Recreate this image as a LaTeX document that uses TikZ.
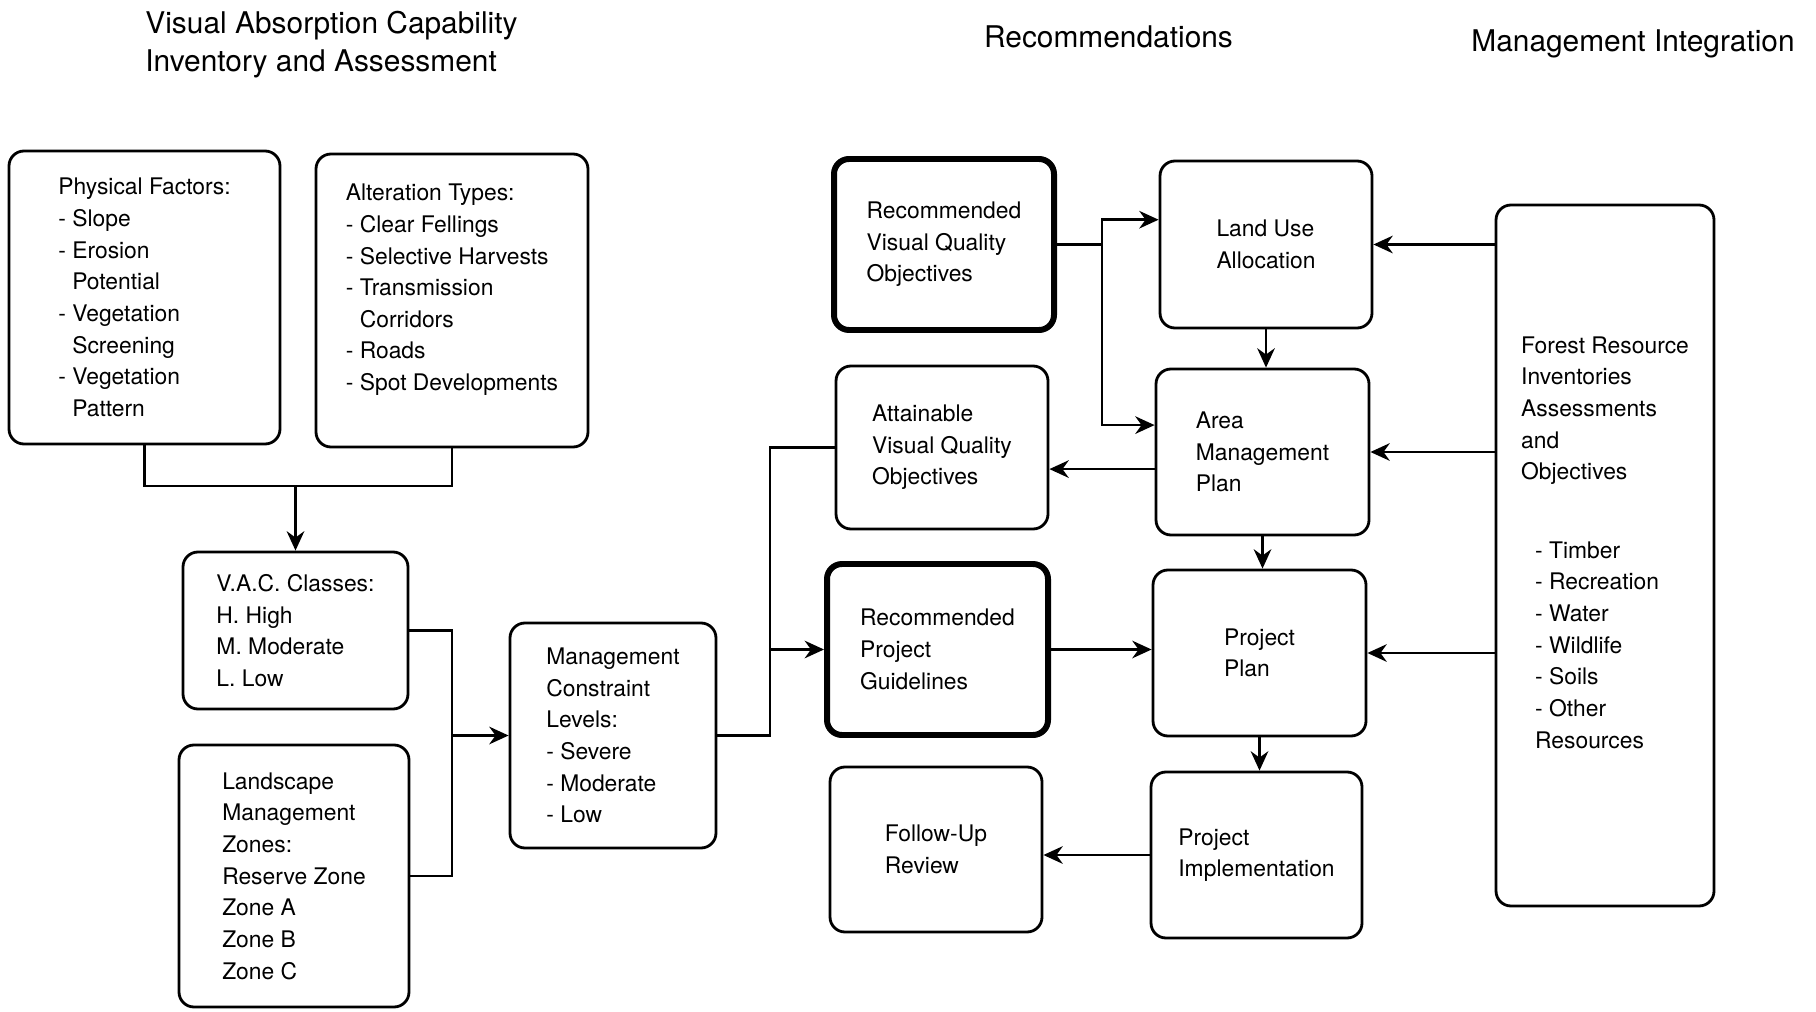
\documentclass[tikz,border=0pt]{standalone}
\usepackage{fontspec}
\setmainfont{TeX Gyre Heros}
\usetikzlibrary{arrows.meta}

\begin{document}
\begin{tikzpicture}[x=1cm,y=1cm,
  box/.style={draw,line width=1.6pt,rounded corners=0.3cm,align=left,font=\fontsize{13}{18}\selectfont},
  keybox/.style={box,line width=3.4pt},
  title/.style={align=left,font=\fontsize{17}{22}\selectfont},
  link/.style={line width=1.5pt},
  flow/.style={link,-{Stealth[length=11pt,width=10pt]}}]
\useasboundingbox (0,0) rectangle (36.32,20.22);

\node[title] (vactitle) at (6.63,19.33) {Visual Absorption Capability\\Inventory and Assessment};
\node[title] (rectitle) at (22.17,19.48) {Recommendations};
\node[title] (mantitle) at (32.66,19.34) {Management Integration};

\node[box,minimum width=5.42cm,minimum height=5.86cm] (phys) at (2.89,14.27) {Physical Factors:\\- Slope\\- Erosion\\\hphantom{- }Potential\\- Vegetation\\\hphantom{- }Screening\\- Vegetation\\\hphantom{- }Pattern};
\node[box,minimum width=5.44cm,minimum height=5.86cm] (alter) at (9.04,14.21) {Alteration Types:\\- Clear Fellings\\- Selective Harvests\\- Transmission\\\hphantom{- }Corridors\\- Roads\\- Spot Developments\\[-3pt]\mbox{}};
\node[box,minimum width=4.5cm,minimum height=3.14cm] (vac) at (5.91,7.61) {V.A.C. Classes:\\H. High\\M. Moderate\\L. Low};
\node[box,minimum width=4.6cm,minimum height=5.24cm] (lmz) at (5.88,2.70) {Landscape\\Management\\Zones:\\Reserve Zone\\Zone A\\Zone B\\Zone C};
\node[box,minimum width=4.12cm,minimum height=4.5cm] (mcl) at (12.26,5.51) {Management\\Constraint\\Levels:\\- Severe\\- Moderate\\- Low};

\node[keybox,minimum width=4.4cm,minimum height=3.42cm] (rvqo) at (18.88,15.33) {Recommended\\Visual Quality\\Objectives};
\node[box,minimum width=4.24cm,minimum height=3.26cm] (avqo) at (18.84,11.27) {Attainable\\Visual Quality\\Objectives};
\node[keybox,minimum width=4.42cm,minimum height=3.42cm] (rpg) at (18.75,7.23) {Recommended\\Project\\Guidelines};
\node[box,minimum width=4.24cm,minimum height=3.3cm] (fur) at (18.72,3.23) {Follow-Up\\Review};

\node[box,minimum width=4.24cm,minimum height=3.34cm] (lua) at (25.32,15.33) {Land Use\\Allocation};
\node[box,minimum width=4.26cm,minimum height=3.32cm] (amp) at (25.25,11.18) {Area\\Management\\Plan};
\node[box,minimum width=4.26cm,minimum height=3.32cm] (pp) at (25.19,7.16) {Project\\Plan};
\node[box,minimum width=4.22cm,minimum height=3.32cm] (pi) at (25.13,3.12) {Project\\Implementation};

\node[box,minimum width=4.36cm,minimum height=14.02cm] (fri) at (32.10,9.11) {Forest Resource\\Inventories\\Assessments\\and\\Objectives\\[0.94cm]\hspace*{0.28cm}- Timber\\\hspace*{0.28cm}- Recreation\\\hspace*{0.28cm}- Water\\\hspace*{0.28cm}- Wildlife\\\hspace*{0.28cm}- Soils\\\hspace*{0.28cm}- Other\\\hspace*{0.28cm}Resources\\[-3pt]\mbox{}};

\coordinate (j1) at (5.91,10.50);
\draw[link] (phys.south) |- (j1) -| (alter.south);
\draw[flow] (j1) -- (vac.north);

\coordinate (j2) at (9.04,5.51);
\draw[link] (vac.east) -| (j2) |- (lmz.east);
\draw[flow] (j2) -- (mcl.west);

\coordinate (j3) at (15.40,7.23);
\draw[link] (mcl.east) -| (j3) |- (avqo.west);
\draw[flow] (j3) -- (rpg.west);

\coordinate (j4) at (22.04,15.33);
\draw[link] (rvqo.east) -- (j4);
\draw[flow] (j4) |- (lua.167);
\draw[flow] (j4) |- (amp.166);

\draw[flow] (lua.south) -- (lua.south |- amp.north);
\draw[flow] (amp.south) -- (amp.south |- pp.north);
\draw[flow] (pp.south) -- (pp.south |- pi.north);
\draw[flow] (amp.189) -- (amp.189 -| avqo.east);
\draw[flow] (rpg.east) -- (rpg.east -| pp.west);
\draw[flow] (pi.west) -- (pi.west -| fur.east);

\draw[flow] (fri.west |- lua.east) -- (lua.east);
\draw[flow] (fri.west |- amp.east) -- (amp.east);
\draw[flow] (fri.west |- pp.east) -- (pp.east);
\end{tikzpicture}
\end{document}
